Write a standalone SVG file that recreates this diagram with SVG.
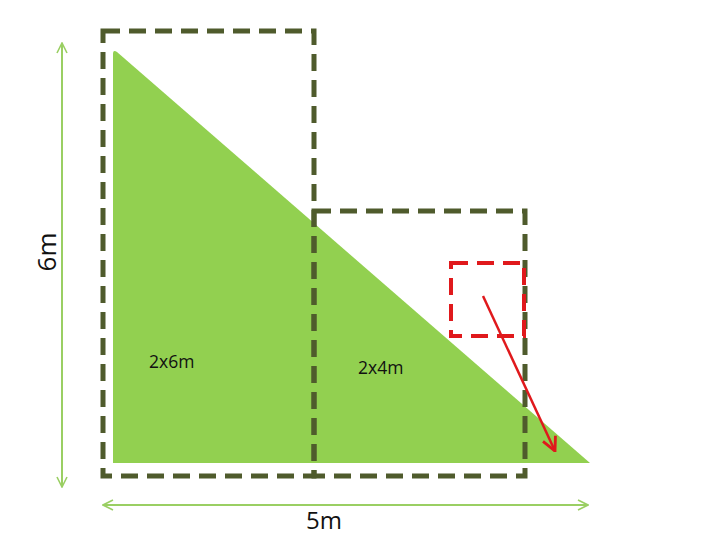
<svg xmlns="http://www.w3.org/2000/svg" width="712" height="537" viewBox="0 0 712 537">
<defs>
<style>
.dash{fill:none;stroke:#4f5b2c;stroke-width:5;stroke-dasharray:17 9}
.red{fill:none;stroke:#e0191c;stroke-width:4;stroke-dasharray:17 9}
.dim{fill:none;stroke:#9acf63;stroke-width:2}
.lbl{font-family:"Open Sans","Liberation Sans",sans-serif;fill:#111}
</style>
<marker id="ga" viewBox="0 0 12 12" refX="11" refY="6" markerWidth="12" markerHeight="12" markerUnits="userSpaceOnUse" orient="auto-start-reverse"><path d="M1,1 L11,6 L1,11" fill="none" stroke="#9acf63" stroke-width="1.6"/></marker>
<marker id="ra" viewBox="0 0 14 14" refX="13" refY="7" markerWidth="16" markerHeight="16" markerUnits="userSpaceOnUse" orient="auto"><path d="M1,1 L13,7 L1,13" fill="none" stroke="#e0191c" stroke-width="2.5"/></marker>
</defs>
<rect width="712" height="537" fill="#fff"/>
<g id="triangle"><path d="M113,54 Q113,49 117,52 L590,463 L113,463 Z" fill="#92d050"/></g>
<g id="rect-left"><rect class="dash" x="103" y="31" width="211" height="445"/></g>
<g id="rect-right"><rect class="dash" x="314" y="211" width="211" height="265"/></g>
<g id="rect-red"><rect class="red" x="451" y="263" width="73" height="73"/></g>
<g id="labels">
<text class="lbl" x="149" y="368" font-size="17.5">2x6m</text>
<text class="lbl" x="358" y="374" font-size="17.5">2x4m</text>
<text class="lbl" x="324" y="529" font-size="24" text-anchor="middle">5m</text>
<text class="lbl" transform="translate(56,252) rotate(-90)" font-size="26" text-anchor="middle">6m</text>
</g>
<g id="connectors">
<line class="dim" x1="62" y1="43" x2="62" y2="487" marker-start="url(#ga)" marker-end="url(#ga)"/>
<line class="dim" x1="103" y1="505" x2="588" y2="505" marker-start="url(#ga)" marker-end="url(#ga)"/>
<line x1="483" y1="296" x2="555" y2="451" stroke="#e0191c" stroke-width="2.5" marker-end="url(#ra)"/>
</g>
</svg>
